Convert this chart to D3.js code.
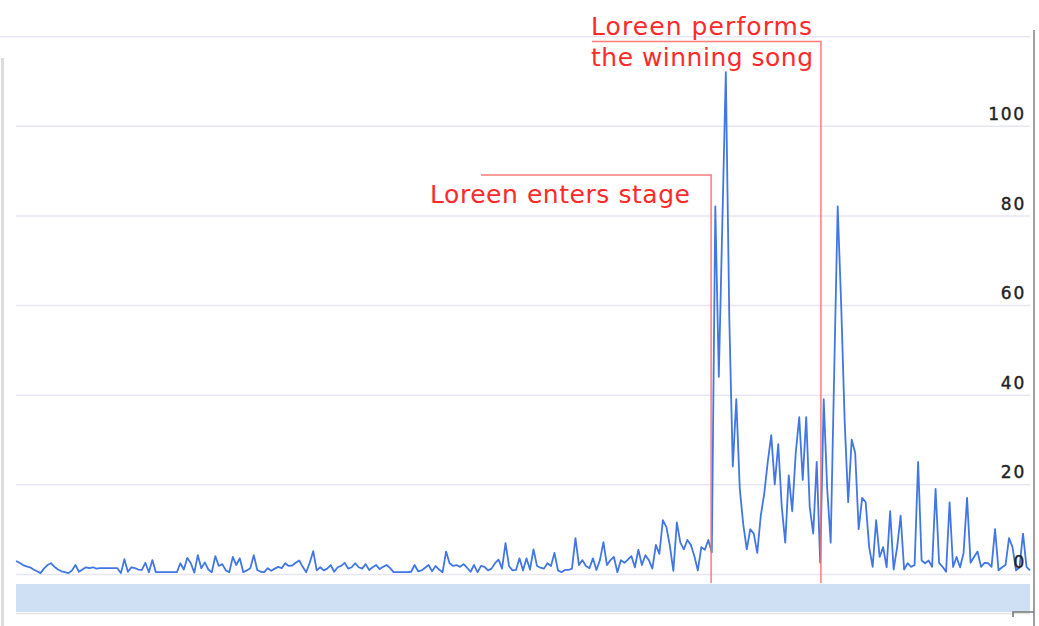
<!DOCTYPE html>
<html>
<head>
<meta charset="utf-8">
<script src="https://cdn.jsdelivr.net/npm/d3@7"></script>
<style>
  html, body { margin: 0; padding: 0; background: #fff; }
  svg { display: block; }
</style>
</head>
<body>
<svg id="chart" width="1039" height="626"></svg>
<script>
// Activity per sample across the broadcast
const volume = [
  2.9, 2.5, 2.0, 1.7, 1.5, 1.0, 0.6, 0.2, 1.2, 2.0,
  2.4, 1.6, 1.0, 0.6, 0.4, 0.2, 0.8, 2.0, 0.5, 1.0,
  1.5, 1.3, 1.5, 1.2, 1.3, 1.3, 1.3, 1.3, 1.3, 1.3,
  0.2, 3.3, 0.5, 1.5, 1.3, 1.0, 0.9, 2.5, 0.4, 3.1,
  0.4, 0.4, 0.4, 0.4, 0.4, 0.4, 0.4, 2.4, 1.0, 3.6,
  2.4, 0.3, 4.2, 1.3, 2.6, 1.0, 0.4, 4.0, 1.8, 2.2,
  0.8, 0.4, 3.8, 2.0, 3.5, 0.4, 0.8, 1.3, 4.2, 0.9,
  0.5, 0.4, 1.3, 0.7, 1.2, 1.6, 1.3, 2.4, 1.8, 1.9,
  2.5, 3.0, 1.6, 0.4, 2.5, 5.1, 0.8, 1.5, 0.8, 1.2,
  2.0, 0.5, 1.5, 1.8, 2.5, 1.2, 1.5, 2.4, 1.5, 1.2,
  2.2, 0.9, 1.5, 2.0, 1.1, 1.6, 2.0, 1.3, 0.4, 0.4,
  0.4, 0.4, 0.4, 0.5, 2.0, 0.6, 0.8, 1.4, 2.0, 0.6,
  1.8, 1.0, 0.4, 5.0, 2.4, 1.8, 2.0, 1.6, 2.2, 1.4,
  0.5, 2.0, 0.4, 1.8, 1.6, 0.8, 1.2, 2.4, 3.2, 1.2,
  6.9, 1.8, 0.8, 0.9, 3.5, 0.8, 3.5, 1.0, 5.5, 1.8,
  1.4, 1.2, 2.4, 1.8, 4.7, 0.8, 0.4, 0.9, 0.9, 1.2,
  8.0, 2.0, 3.1, 1.8, 1.3, 3.5, 0.9, 3.1, 7.1, 2.0,
  3.1, 3.8, 0.4, 3.1, 2.5, 3.2, 4.0, 1.5, 5.4, 2.0,
  4.2, 3.1, 1.2, 6.5, 4.5, 12.0, 10.5, 6.3, 0.7, 11.5,
  7.0, 5.5, 7.6, 6.5, 4.0, 0.8, 6.0, 5.4, 7.6, 4.8,
  82, 44, 78, 112, 57, 24, 39, 19, 11, 5.5,
  10, 9, 4.7, 13, 18, 25, 31, 20, 29, 15,
  7, 22, 14, 27, 35, 21, 35, 15, 9, 25,
  2.5, 39, 19, 7, 45, 82, 60, 34, 16, 30,
  27, 10, 17, 16, 6, 1.6, 12, 3.8, 6, 1.5,
  14, 1, 6, 13, 1, 2.4, 1.6, 2, 25, 3,
  2.4, 3, 1.6, 19, 2.5, 1.6, 0.5, 16, 1.6, 3.8,
  1.5, 4.7, 17, 2.5, 3.8, 5, 1.6, 2.5, 2.4, 1.6,
  10, 0.8, 1.5, 2, 8, 6, 0.8, 1.5, 9, 1.6, 0.8
];

// Gridlines and value labels
const gridTicks = [0, 20, 40, 60, 80, 100, 120];
const labelTicks = [0, 20, 40, 60, 80, 100];

// Moments marked on the timeline (sample index) and their captions
const eventAt = [198.8, 230.2];
const eventCaptions = [
  ["Loreen enters stage"],
  ["Loreen performs", "the winning song"]
];

const svg = d3.select("#chart");
const left = 16, right = 1030;

const x = d3.scaleLinear().domain([0, volume.length - 1]).range([left, right]);
const y = d3.scaleLinear().domain([0, 120]).range([574, 36.2]);

// frame pieces
svg.append("line")
  .attr("x1", 2.5).attr("x2", 2.5).attr("y1", 58).attr("y2", 626)
  .attr("stroke", "#dcdcdc").attr("stroke-width", 3);
svg.append("line")
  .attr("x1", 1034).attr("x2", 1034).attr("y1", 30).attr("y2", 626)
  .attr("stroke", "#a0a0a0").attr("stroke-width", 2);

// gridlines
const grid = svg.append("g")
  .attr("transform", `translate(${left},0)`)
  .call(d3.axisLeft(y).tickValues(gridTicks).tickSize(-(right - left)).tickFormat(""));
grid.select(".domain").remove();
grid.selectAll(".tick line").attr("stroke", "#e7e7f3").attr("stroke-width", 1.5);
// the top rule runs to the left edge
grid.selectAll(".tick").filter(d => d === 120).select("line")
  .attr("x1", -left);

// bottom band
svg.append("rect")
  .attr("x", left).attr("y", 584).attr("width", right - left).attr("height", 28)
  .attr("fill", "#cfe0f5");
svg.append("line")
  .attr("x1", left).attr("x2", right).attr("y1", 613.5).attr("y2", 613.5)
  .attr("stroke", "#e4e4e4").attr("stroke-width", 1.5);
// small corner bracket
svg.append("path")
  .attr("d", "M1013,617 L1013,612 L1034,612")
  .attr("fill", "none").attr("stroke", "#777").attr("stroke-width", 1.6);

// series line
const line = d3.line()
  .x((d, i) => x(i))
  .y(d => y(d));
svg.append("path")
  .datum(volume)
  .attr("fill", "none")
  .attr("stroke", "#4077e4")
  .attr("stroke-width", 1.8)
  .attr("stroke-linejoin", "round")
  .attr("d", line);

// event markers
const red = "#ff2a2a";
const markerTop = [175, 41.5];
const captionX = [430, 591];
const ruleStart = [481, 592];
const captionBase = [203, 35];
eventAt.forEach((t, k) => {
  const ex = x(t);
  svg.append("path")
    .attr("d", `M${ruleStart[k]},${markerTop[k]} L${ex},${markerTop[k]} L${ex},583`)
    .attr("fill", "none").attr("stroke", "#ff6b6b").attr("stroke-width", 1.5)
    .attr("opacity", 0.9);
  eventCaptions[k].forEach((txt, j) => {
    svg.append("text")
      .attr("x", captionX[k])
      .attr("y", captionBase[k] + j * 31)
      .attr("fill", red)
      .attr("font-family", "DejaVu Sans, Verdana, sans-serif")
      .attr("font-size", 25)
      .attr("textLength", [[260], [221, 222]][k][j])
      .attr("lengthAdjust", "spacing")
      .text(txt);
  });
});

// value labels
const labels = svg.append("g")
  .attr("transform", "translate(1026,0)")
  .call(d3.axisLeft(y).tickValues(labelTicks).tickSize(0).tickPadding(0));
labels.select(".domain").remove();
labels.selectAll(".tick line").remove();
labels.selectAll("text")
  .attr("dy", "-0.38em")
  .attr("fill", "#222")
  .attr("stroke", "#222")
  .attr("stroke-width", 0.4)
  .attr("font-family", "DejaVu Sans, Verdana, sans-serif")
  .attr("font-size", 17)
  .attr("letter-spacing", 1.8);
</script>
</body>
</html>
